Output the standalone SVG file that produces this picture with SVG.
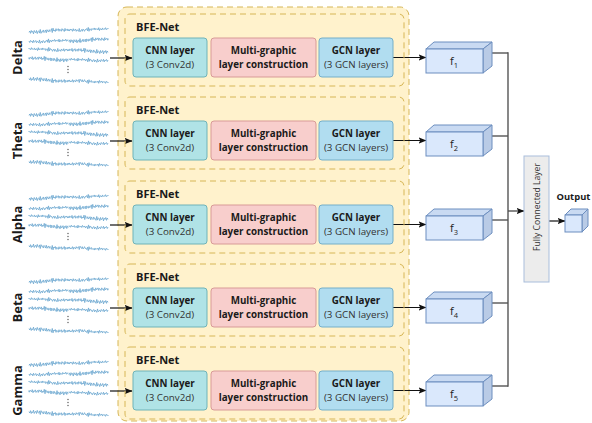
<svg xmlns="http://www.w3.org/2000/svg" xmlns:xlink="http://www.w3.org/1999/xlink" width="592" height="423" viewBox="0 0 592 423">
<style>
text{font-family:"Open Sans","Noto Sans","Liberation Sans",sans-serif;fill:#1a1a1a}
.band{font-size:13px;font-weight:700;text-anchor:middle}
.title{font-size:11px;font-weight:700}
.b{font-size:9.8px;font-weight:700;text-anchor:middle}
.r{font-size:9.8px;text-anchor:middle;fill:#333}
.outer{fill:#fff2cc;stroke:#d6b656;stroke-width:1;stroke-dasharray:6 4}
.inner{fill:none;stroke:#d6b656;stroke-width:1;stroke-dasharray:6 4}
.cnn{fill:#b0e3e6;stroke:#6fb3b8;stroke-width:1}
.mg{fill:#f8cecc;stroke:#d89a97;stroke-width:1}
.gcn{fill:#b1ddf0;stroke:#74afc9;stroke-width:1}
.front{fill:#dae8fc;stroke:#6c8ebf;stroke-width:1}
.top{fill:#c9daf2;stroke:#6c8ebf;stroke-width:1;stroke-linejoin:round}
.side{fill:#b9cbe6;stroke:#6c8ebf;stroke-width:1;stroke-linejoin:round}
.wave{fill:none;stroke:#6aa6cf;stroke-width:0.8;stroke-linejoin:round;vector-effect:non-scaling-stroke}
.arr{stroke:#111;stroke-width:1.2;fill:none}
.gl{stroke:#555;stroke-width:1.4;fill:none}
.fc{fill:#ececec;stroke:#a9bedc;stroke-width:1}
.fct{font-size:8.6px;text-anchor:middle;fill:#333}
.fl{font-size:11px;text-anchor:middle;fill:#222}
</style>
<defs>
<marker id="ah" markerUnits="userSpaceOnUse" markerWidth="8" markerHeight="8" viewBox="0 0 8 8" refX="7.5" refY="4" orient="auto">
<path d="M0,0.8 L8,4 L0,7.2 L1.8,4 Z" fill="#111"/>
</marker>
<path id="w1" class="wave" d="M0,1 l1.5,-1 1.5,1.8 1.5,-2.2 1.5,1.4 1.5,-0.8 1.5,2 1.5,-2.6 1.5,1.2 1.5,0.6 1.5,-1.8 1.5,2.4 1.5,-1.6 1.5,-0.6 1.5,1.8 1.5,-2.8 1.5,3 1.5,-1.4 1.5,0.4 1.5,-1.6 1.5,2 1.5,-0.8 1.5,-1.2 1.5,2.2 1.5,-2.4 1.5,1 1.5,0.8 1.5,-1.8 1.5,1.4 1.5,-0.6 1.5,-1.6 1.5,3 1.5,-3.4 1.5,2.2 1.5,-0.8 1.5,1.2 1.5,-2.2 1.5,1.6 1.5,-0.6 1.5,-1 1.5,2 1.5,-1.6 1.5,0.6 1.5,1 1.5,-2 1.5,1.2 1.5,-0.4 1.5,1.4 1.5,-2.4 1.5,1.8 1.5,-0.8 1.5,-0.6 1.5,1.6 1.5,-1.2"/>
<path id="w2" class="wave" d="M0,0 l1.5,1.2 1.5,-1.6 1.5,0.8 1.5,-0.4 1.5,1.4 1.5,-2 1.5,1.6 1.5,-0.6 1.5,-0.8 1.5,1.8 1.5,-1.2 1.5,0.4 1.5,0.8 1.5,-2.2 1.5,2.6 1.5,-1 1.5,-0.8 1.5,1.4 1.5,-1.8 1.5,0.6 1.5,1.2 1.5,-1.4 1.5,0.2 1.5,-1 1.5,1.8 1.5,-2.6 1.5,3 1.5,-2 1.5,0.4 1.5,1 1.5,-1.6 1.5,0.8 1.5,-0.2 1.5,-1 1.5,1.6 1.5,-1.2 1.5,0.6 1.5,-0.4 1.5,1 1.5,-1.8 1.5,2.2 1.5,-1.4 1.5,0.2 1.5,0.8 1.5,-1.6 1.5,1.2 1.5,-0.6 1.5,0.4 1.5,-1.2 1.5,1.6 1.5,-1 1.5,0.4 1.5,-0.6"/>
<g id="wA"><use href="#w1" transform="scale(0.5,1.3)"/><use href="#w2" transform="translate(39.75,-1.5) scale(0.5,1.3)"/></g>
<g id="wB"><use href="#w2" transform="scale(0.5,1.3)"/><use href="#w1" transform="translate(39.75,0.5) scale(0.5,1.3) translate(0,-1)"/></g>
<g id="sig">
<use href="#wA" transform="translate(29,31)"/>
<use href="#wB" transform="translate(29,41)"/>
<use href="#wA" transform="translate(108,51) scale(-1,1)"/>
<use href="#wB" transform="translate(108,60) scale(-1,1)"/>
<circle cx="68" cy="66.5" r="0.7" fill="#555"/>
<circle cx="68" cy="69.5" r="0.7" fill="#555"/>
<circle cx="68" cy="72.5" r="0.7" fill="#555"/>
<use href="#wA" transform="translate(29,80) scale(1,-1)"/>
</g>
</defs>
<rect width="592" height="423" fill="#fff"/>
<g id="bfe-container"><rect x="118" y="7" width="291" height="414" rx="9" class="outer"/></g>

<g id="connectors">
<g id="row-conn-1">
<line x1="110" y1="58" x2="132" y2="58" class="arr" marker-end="url(#ah)"/>
<line x1="393" y1="57.5" x2="426" y2="57.5" class="arr" marker-end="url(#ah)"/>
<polyline points="492,53 508,53" class="gl"/>
</g>
<g id="row-conn-2" transform="translate(0,83)">
<line x1="110" y1="58" x2="132" y2="58" class="arr" marker-end="url(#ah)"/>
<line x1="393" y1="57.5" x2="426" y2="57.5" class="arr" marker-end="url(#ah)"/>
<polyline points="492,53 508,53" class="gl"/>
</g>
<g id="row-conn-3" transform="translate(0,167)">
<line x1="110" y1="58" x2="132" y2="58" class="arr" marker-end="url(#ah)"/>
<line x1="393" y1="57.5" x2="426" y2="57.5" class="arr" marker-end="url(#ah)"/>
<polyline points="492,53 508,53" class="gl"/>
</g>
<g id="row-conn-4" transform="translate(0,250)">
<line x1="110" y1="58" x2="132" y2="58" class="arr" marker-end="url(#ah)"/>
<line x1="393" y1="57.5" x2="426" y2="57.5" class="arr" marker-end="url(#ah)"/>
<polyline points="492,53 508,53" class="gl"/>
</g>
<g id="row-conn-5" transform="translate(0,333)">
<line x1="110" y1="58" x2="132" y2="58" class="arr" marker-end="url(#ah)"/>
<line x1="393" y1="57.5" x2="426" y2="57.5" class="arr" marker-end="url(#ah)"/>
<polyline points="492,53 508,53" class="gl"/>
</g>
<line x1="508" y1="52.3" x2="508" y2="386.7" class="gl"/>
<line x1="508" y1="211" x2="524" y2="211" class="gl" marker-end="url(#ah)"/>
<line x1="549" y1="221" x2="565" y2="221" class="arr" marker-end="url(#ah)"/>
</g>

<g id="row1">
<g id="label-delta"><text class="band" transform="translate(21.5,57.5) rotate(-90)">Delta</text></g>
<g id="eeg-delta"><use href="#sig"/></g>
<g id="bfe-net-1"><rect x="125" y="14" width="279" height="72" rx="5" class="inner"/><text x="136" y="31" class="title">BFE-Net</text></g>
<g id="cnn-1"><rect x="133" y="38" width="74" height="39" rx="3" class="cnn"/><text x="170" y="54" class="b">CNN layer</text><text x="170" y="68" class="r">(3 Conv2d)</text></g>
<g id="mg-1"><rect x="211" y="38" width="105" height="39" rx="3" class="mg"/><text x="263.5" y="54" class="b">Multi-graphic</text><text x="263.5" y="68" class="b">layer construction</text></g>
<g id="gcn-1"><rect x="319" y="38" width="74" height="39" rx="3" class="gcn"/><text x="356" y="54" class="b">GCN layer</text><text x="356" y="68" class="r">(3 GCN layers)</text></g>
<g id="f1"><polygon points="426,49 434,42 492,42 483,49" class="top"/><polygon points="483,49 492,42 492,66 483,73" class="side"/><rect x="426" y="49" width="57" height="24" class="front"/><text x="454" y="65" class="fl">f<tspan font-size="7.5" dy="2.5">1</tspan></text></g>
</g>

<g id="row2" transform="translate(0,83)">
<g id="label-theta"><text class="band" transform="translate(21.5,57.5) rotate(-90)">Theta</text></g>
<g id="eeg-theta"><use href="#sig"/></g>
<g id="bfe-net-2"><rect x="125" y="14" width="279" height="72" rx="5" class="inner"/><text x="136" y="31" class="title">BFE-Net</text></g>
<g id="cnn-2"><rect x="133" y="38" width="74" height="39" rx="3" class="cnn"/><text x="170" y="54" class="b">CNN layer</text><text x="170" y="68" class="r">(3 Conv2d)</text></g>
<g id="mg-2"><rect x="211" y="38" width="105" height="39" rx="3" class="mg"/><text x="263.5" y="54" class="b">Multi-graphic</text><text x="263.5" y="68" class="b">layer construction</text></g>
<g id="gcn-2"><rect x="319" y="38" width="74" height="39" rx="3" class="gcn"/><text x="356" y="54" class="b">GCN layer</text><text x="356" y="68" class="r">(3 GCN layers)</text></g>
<g id="f2"><polygon points="426,49 434,42 492,42 483,49" class="top"/><polygon points="483,49 492,42 492,66 483,73" class="side"/><rect x="426" y="49" width="57" height="24" class="front"/><text x="454" y="65" class="fl">f<tspan font-size="7.5" dy="2.5">2</tspan></text></g>
</g>

<g id="row3" transform="translate(0,167)">
<g id="label-alpha"><text class="band" transform="translate(21.5,57.5) rotate(-90)">Alpha</text></g>
<g id="eeg-alpha"><use href="#sig"/></g>
<g id="bfe-net-3"><rect x="125" y="14" width="279" height="72" rx="5" class="inner"/><text x="136" y="31" class="title">BFE-Net</text></g>
<g id="cnn-3"><rect x="133" y="38" width="74" height="39" rx="3" class="cnn"/><text x="170" y="54" class="b">CNN layer</text><text x="170" y="68" class="r">(3 Conv2d)</text></g>
<g id="mg-3"><rect x="211" y="38" width="105" height="39" rx="3" class="mg"/><text x="263.5" y="54" class="b">Multi-graphic</text><text x="263.5" y="68" class="b">layer construction</text></g>
<g id="gcn-3"><rect x="319" y="38" width="74" height="39" rx="3" class="gcn"/><text x="356" y="54" class="b">GCN layer</text><text x="356" y="68" class="r">(3 GCN layers)</text></g>
<g id="f3"><polygon points="426,49 434,42 492,42 483,49" class="top"/><polygon points="483,49 492,42 492,66 483,73" class="side"/><rect x="426" y="49" width="57" height="24" class="front"/><text x="454" y="65" class="fl">f<tspan font-size="7.5" dy="2.5">3</tspan></text></g>
</g>

<g id="row4" transform="translate(0,250)">
<g id="label-beta"><text class="band" transform="translate(21.5,57.5) rotate(-90)">Beta</text></g>
<g id="eeg-beta"><use href="#sig"/></g>
<g id="bfe-net-4"><rect x="125" y="14" width="279" height="72" rx="5" class="inner"/><text x="136" y="31" class="title">BFE-Net</text></g>
<g id="cnn-4"><rect x="133" y="38" width="74" height="39" rx="3" class="cnn"/><text x="170" y="54" class="b">CNN layer</text><text x="170" y="68" class="r">(3 Conv2d)</text></g>
<g id="mg-4"><rect x="211" y="38" width="105" height="39" rx="3" class="mg"/><text x="263.5" y="54" class="b">Multi-graphic</text><text x="263.5" y="68" class="b">layer construction</text></g>
<g id="gcn-4"><rect x="319" y="38" width="74" height="39" rx="3" class="gcn"/><text x="356" y="54" class="b">GCN layer</text><text x="356" y="68" class="r">(3 GCN layers)</text></g>
<g id="f4"><polygon points="426,49 434,42 492,42 483,49" class="top"/><polygon points="483,49 492,42 492,66 483,73" class="side"/><rect x="426" y="49" width="57" height="24" class="front"/><text x="454" y="65" class="fl">f<tspan font-size="7.5" dy="2.5">4</tspan></text></g>
</g>

<g id="row5" transform="translate(0,333)">
<g id="label-gamma"><text class="band" transform="translate(21.5,57.5) rotate(-90)">Gamma</text></g>
<g id="eeg-gamma"><use href="#sig"/></g>
<g id="bfe-net-5"><rect x="125" y="14" width="279" height="72" rx="5" class="inner"/><text x="136" y="31" class="title">BFE-Net</text></g>
<g id="cnn-5"><rect x="133" y="38" width="74" height="39" rx="3" class="cnn"/><text x="170" y="54" class="b">CNN layer</text><text x="170" y="68" class="r">(3 Conv2d)</text></g>
<g id="mg-5"><rect x="211" y="38" width="105" height="39" rx="3" class="mg"/><text x="263.5" y="54" class="b">Multi-graphic</text><text x="263.5" y="68" class="b">layer construction</text></g>
<g id="gcn-5"><rect x="319" y="38" width="74" height="39" rx="3" class="gcn"/><text x="356" y="54" class="b">GCN layer</text><text x="356" y="68" class="r">(3 GCN layers)</text></g>
<g id="f5"><polygon points="426,49 434,42 492,42 483,49" class="top"/><polygon points="483,49 492,42 492,66 483,73" class="side"/><rect x="426" y="49" width="57" height="24" class="front"/><text x="454" y="65" class="fl">f<tspan font-size="7.5" dy="2.5">5</tspan></text></g>
</g>

<g id="fully-connected"><rect x="524" y="156" width="25" height="126" class="fc"/><text class="fct" transform="translate(539.5,207) rotate(-90)">Fully Connected Layer</text></g>
<g id="output"><text x="556.5" y="200" font-size="9.4" font-weight="700">Output</text><polygon points="565,215 571,209 588,209 582,215" class="top"/><polygon points="582,215 588,209 588,226 582,232" class="side"/><rect x="565" y="215" width="17" height="17" class="front"/></g>
</svg>
